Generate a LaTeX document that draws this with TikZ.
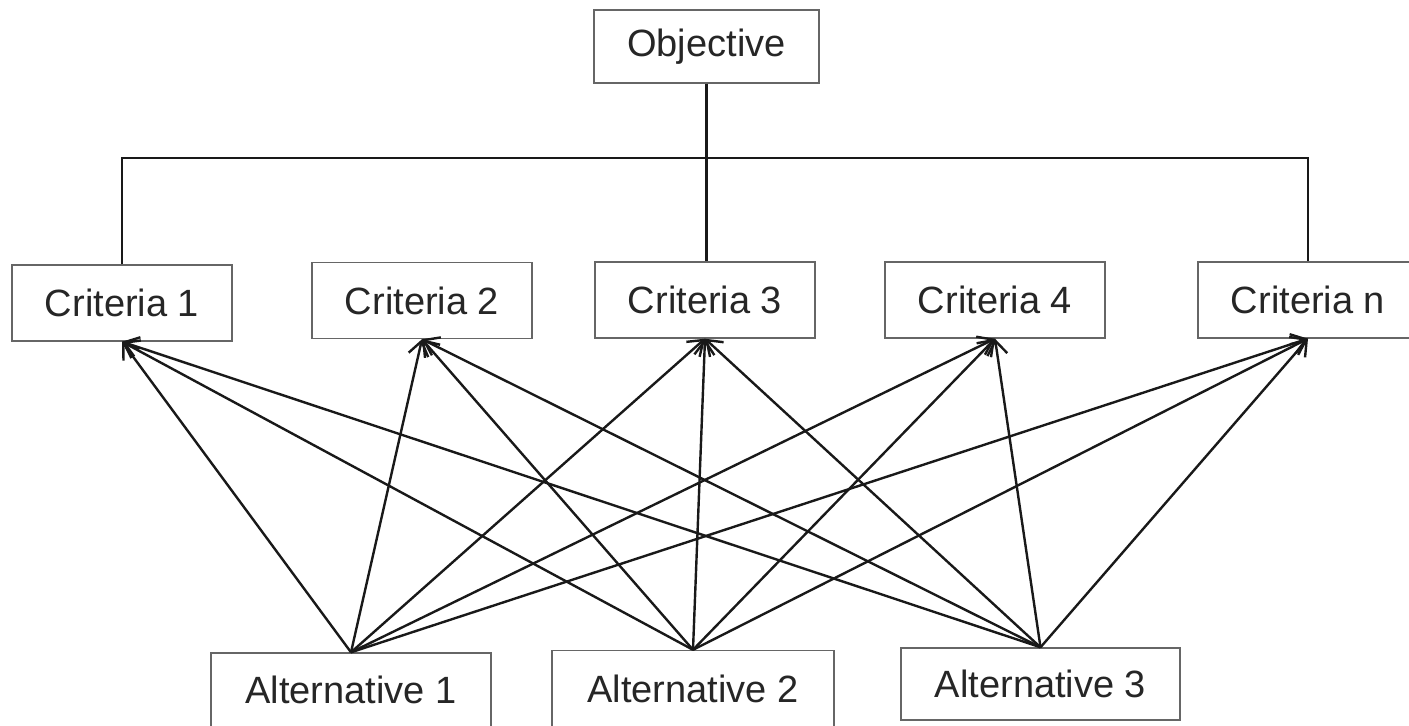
\documentclass[tikz,border=0pt]{standalone}
\usepackage{fontspec}
\setmainfont{Liberation Sans}
\usetikzlibrary{arrows.meta,positioning}

\begin{document}
\begin{tikzpicture}[x=0.5pt, y=-0.5pt, ->, >={Straight Barb[length=7pt,width=10pt]}, line width=1.2pt, draw=black!90, font=\fontsize{19}{23}\selectfont]
				\tikzset{box/.style={draw=black!60, line width=0.7pt, rectangle, inner sep=0pt, text=black!85, minimum width=110pt, minimum height=38pt}}
				\useasboundingbox (0,0) rectangle (1409,726);

				%NODOS
				\node[box, minimum width=112.5pt, minimum height=36.5pt]	(obj) at (706.5,46.5)	{Objective};
				\node[box]	(c1) at (122,303)	{Criteria 1};
				\node[box]	(c2) at (422,300.5)	{Criteria 2};
				\node[box]	(c3) at (705,300)	{Criteria 3};
				\node[box]	(c4) at (995,300)	{Criteria 4};
				\node[box]	(c5) at (1308,300)	{Criteria n};
				\node[box, minimum width=140pt, minimum height=37pt]	(a1) at (351,690)	{Alternative 1};
				\node[box, minimum width=141pt, minimum height=38pt]	(a2) at (693,688.5)	{Alternative 2};
				\node[box, minimum width=139.5pt, minimum height=36pt]	(a3) at (1040.5,684)	{Alternative 3};

				\coordinate (barL) at (122,158);
				\coordinate (barR) at (1308,158);

				%JERARQUIA
				\draw[-] (obj.south) -- (obj.south |- c3.north);
				\draw[-] (c1.north) -- (barL) -- (barR) -- (c5.north);

				%FLECHAS
				\path
					(a1.north)	edge	(c1.south)
					(a1.north)	edge	(c2.south)
					(a1.north)	edge	(c3.south)
					(a1.north)	edge	(c4.south)
					(a1.north)	edge	(c5.south)
					(a2.north)	edge	(c1.south)
					(a2.north)	edge	(c2.south)
					(a2.north)	edge	(c3.south)
					(a2.north)	edge	(c4.south)
					(a2.north)	edge	(c5.south)
					(a3.north)	edge	(c1.south)
					(a3.north)	edge	(c2.south)
					(a3.north)	edge	(c3.south)
					(a3.north)	edge	(c4.south)
					(a3.north)	edge	(c5.south);
\end{tikzpicture}
\end{document}
